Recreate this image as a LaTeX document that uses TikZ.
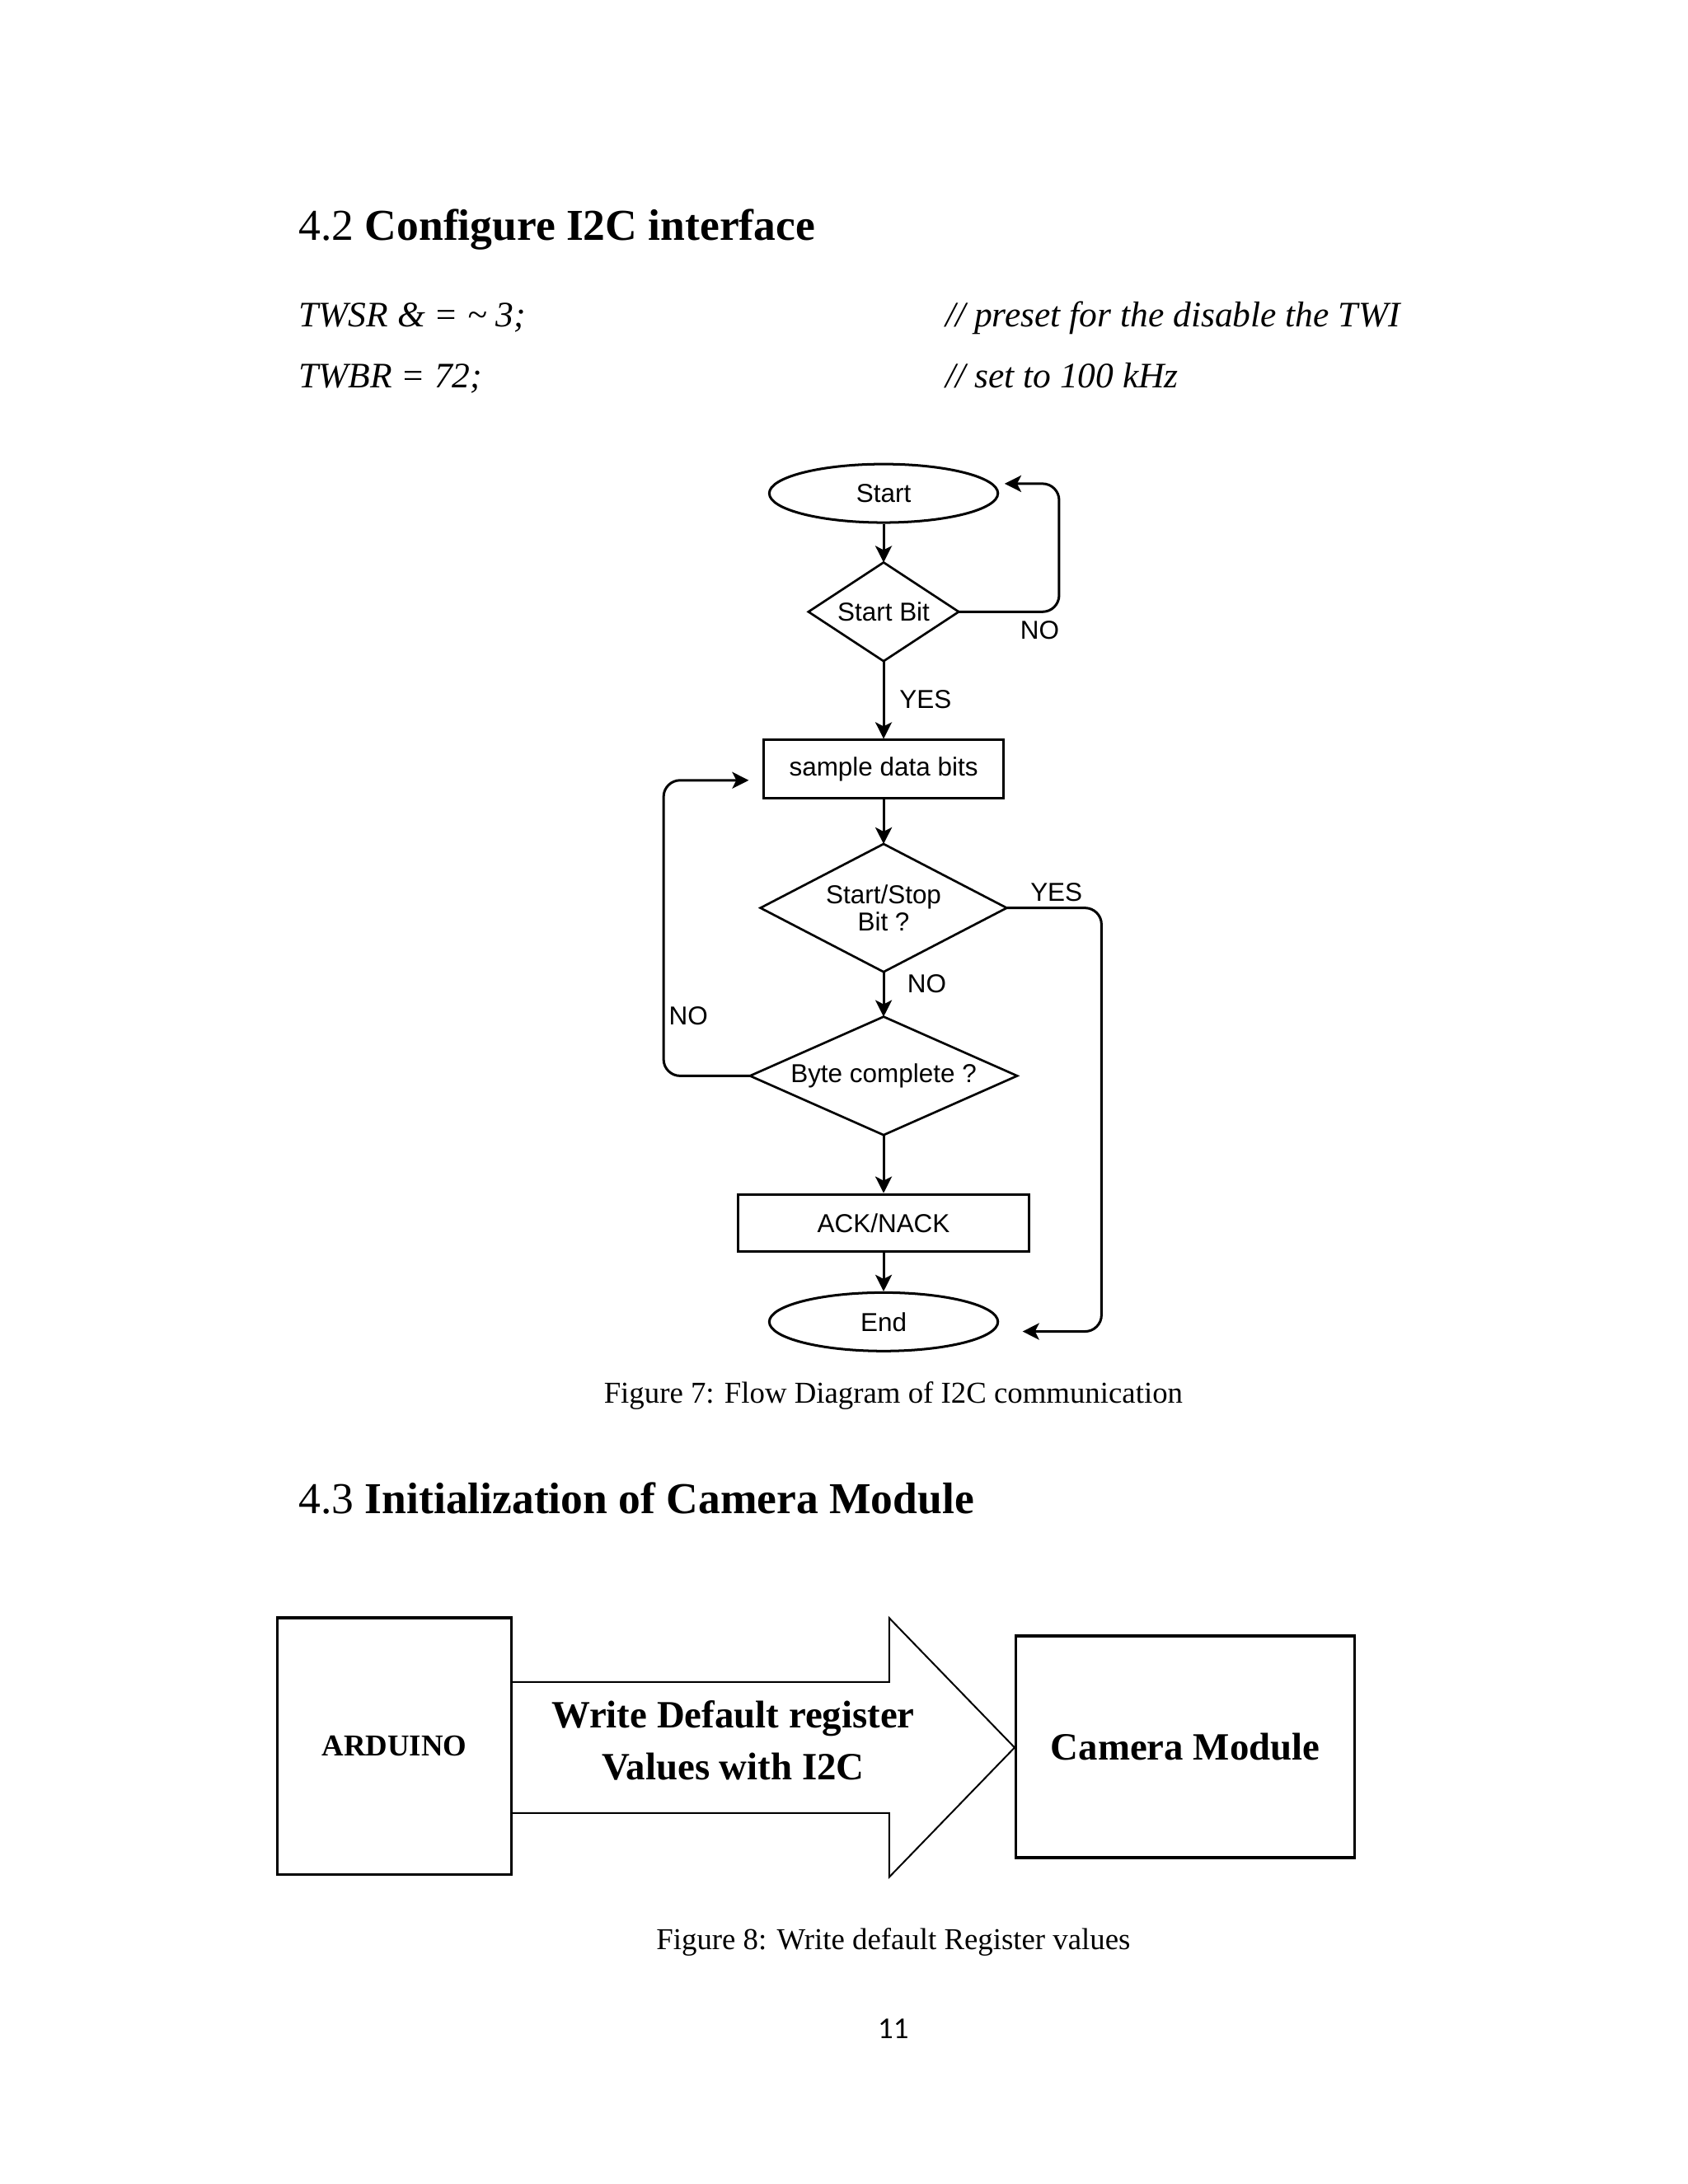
\documentclass[tikz,border=0pt]{standalone}
\usepackage{fontspec}
\setmainfont{Liberation Serif}
\newfontfamily\fcfont{Liberation Sans}
\newfontfamily\calfont{Carlito}
\usetikzlibrary{shapes.geometric,arrows.meta}
\begin{document}
\begin{tikzpicture}[x=0.50537pt,y=-0.50537pt,
  fc/.style={font=\fcfont\fontsize{9.4}{10}\selectfont},
  box/.style={fc, draw, line width=0.9pt, inner sep=0pt, rectangle},
  term/.style={fc, draw, line width=0.9pt, ellipse, inner sep=0pt, minimum width=82.9pt, minimum height=21.2pt},
  decbox/.style={fc, inner sep=0pt, rectangle, align=center},
  decline/.style={line width=0.8pt},
  arr/.style={line width=0.9pt, -{Stealth[length=6pt,width=6pt,inset=1.5pt]}},
  lbl/.style={fc, inner sep=0pt},
  txt/.style={inner sep=0pt},
  bigbox/.style={draw, line width=1pt, inner sep=0pt, rectangle, font=\bfseries\fontsize{14}{16}\selectfont}
]
\useasboundingbox[fill=white] (0,0) rectangle (1211,1567.2);

% headings and code
\node[txt, anchor=base west, font=\fontsize{16}{19}\selectfont] (h1) at (214,172.5) {4.2 \textbf{Configure I2C interface}};
\node[txt, anchor=base west, font=\itshape\fontsize{13}{15}\selectfont] (c1) at (214,234.5) {TWSR \& = \textasciitilde{} 3;};
\node[txt, anchor=base west, font=\itshape\fontsize{13}{15}\selectfont] (m1) at (678,234.5) {// preset for the disable the TWI};
\node[txt, anchor=base west, font=\itshape\fontsize{13}{15}\selectfont] (c2) at (214,278.5) {TWBR = 72;};
\node[txt, anchor=base west, font=\itshape\fontsize{13}{15}\selectfont] (m2) at (678,278.5) {// set to 100 kHz};

% flowchart
\node[term] (st) at (634,354) {Start};
\node[decbox, minimum width=54.1pt, minimum height=35.4pt] (sb) at (634,439) {Start Bit};
\draw[decline] (sb.north) -- (sb.east) -- (sb.south) -- (sb.west) -- cycle;
\node[box, minimum width=86.9pt, minimum height=21.2pt] (sd) at (634,552) {sample data bits};
\node[decbox, minimum width=88.9pt, minimum height=46pt] (ss) at (634,651.5) {Start/Stop\\Bit ?};
\draw[decline] (ss.north) -- (ss.east) -- (ss.south) -- (ss.west) -- cycle;
\node[decbox, minimum width=96.5pt, minimum height=42.5pt] (bc) at (634,772) {Byte complete ?};
\draw[decline] (bc.north) -- (bc.east) -- (bc.south) -- (bc.west) -- cycle;
\node[box, minimum width=105.6pt, minimum height=20.7pt] (ak) at (634,877.5) {ACK/NACK};
\node[term] (en) at (634,948.5) {End};

\draw[arr] (st.south) -- (sb.north);
\draw[arr] (sb.south) -- (sd.north);
\draw[arr] (sd.south) -- (ss.north);
\draw[arr] (ss.south) -- (bc.north);
\draw[arr] (bc.south) -- (ak.north);
\draw[arr] (ak.south) -- (en.north);
\draw[arr, rounded corners=6pt] (sb.east) -- ++(72,0) |- ([xshift=2pt,yshift=3.5pt]st.east);
\draw[arr, rounded corners=6pt] (ss.east) -- ++(68,0) |- ([xshift=8.5pt,yshift=-3.5pt]en.east);
\draw[arr, rounded corners=6pt] (bc.west) -- ++(-62,0) |- ([xshift=-5pt,yshift=-4pt]sd.west);

\node[lbl] (l1) at (746,452) {NO};
\node[lbl] (l2) at (664,502) {YES};
\node[lbl] (l3) at (758,640) {YES};
\node[lbl] (l4) at (665,706) {NO};
\node[lbl] (l5) at (494,729) {NO};

\node[txt, anchor=base, font=\fontsize{11}{13}\selectfont] (cap7) at (641,1007) {Figure 7: Flow Diagram of I2C communication};

% section 4.3
\node[txt, anchor=base west, font=\fontsize{16}{19}\selectfont] (h2) at (214,1086) {4.3 \textbf{Initialization of Camera Module}};

\node[bigbox, minimum width=84.9pt, minimum height=93pt, font=\bfseries\fontsize{11}{13}\selectfont] (ard) at (283,1253) {ARDUINO};
\node[bigbox, minimum width=122.8pt, minimum height=80.4pt] (cam) at (850.5,1253.5) {Camera Module};
\draw[line width=0.6pt] (ard.east |- 0,1207) -- (638,1207) -- (638,1161) -- (728,1254) -- (638,1347) -- (638,1301) -- (ard.east |- 0,1301);
\node[txt, anchor=base, font=\bfseries\fontsize{14}{16}\selectfont] (w1) at (526,1240) {Write Default register};
\node[txt, anchor=base, font=\bfseries\fontsize{14}{16}\selectfont] (w2) at (526,1277) {Values with I2C};

\node[txt, anchor=base, font=\fontsize{11}{13}\selectfont] (cap8) at (641,1399) {Figure 8: Write default Register values};
\node[txt, anchor=base, font=\calfont\fontsize{11}{13}\selectfont] (pg) at (641,1463) {11};
\end{tikzpicture}
\end{document}
